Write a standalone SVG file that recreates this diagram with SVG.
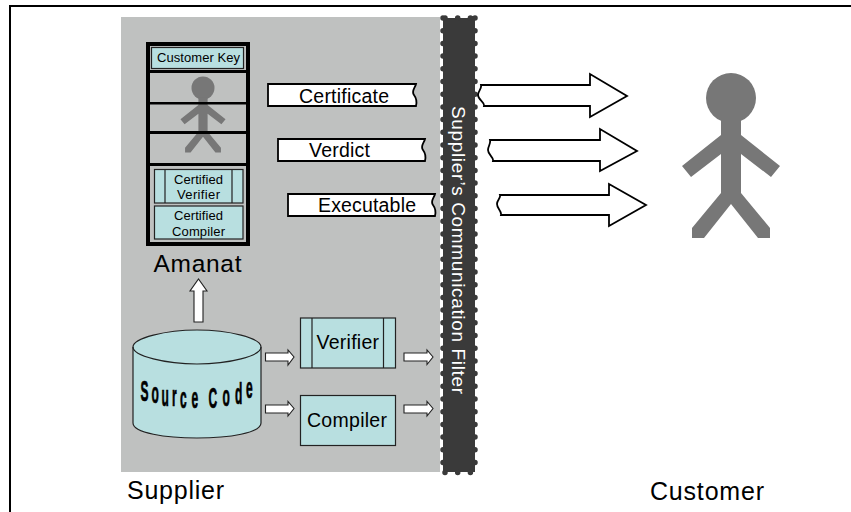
<svg xmlns="http://www.w3.org/2000/svg" width="851" height="512" viewBox="0 0 851 512">
<style>
text{font-family:"Liberation Sans",Arial,sans-serif;fill:#000}
.box{fill:#b8dfe0;stroke:#222;stroke-width:1.2}
.thin{fill:none;stroke:#222;stroke-width:1.2}
.arrow{fill:#fff;stroke:#000;stroke-width:1.8}
.small{stroke-width:1.1;stroke:#222}
.bar{fill:#000}
.person{fill:#777}
</style>
<defs>
<g id="man">
<circle cx="0" cy="0" r="25"/>
<polygon points="-10,20 10,20 10,37 49,68 40,79 10,56 10,95 39,130 39,140 27,140 0,106 -27,140 -39,140 -39,130 -10,95 -10,56 -40,79 -49,68 -10,37"/>
</g>
</defs>
<rect width="851" height="512" fill="#fff"/>
<path d="M10 512V6H851" fill="none" stroke="#000" stroke-width="2"/>
<rect id="supplier-area" x="121" y="17" width="319" height="455" fill="#bfc1c0"/>
<g id="filter">
<rect x="443" y="18" width="32" height="454" fill="#3a3a3a"/>
<path d="M443 18V472M475 18V472M445 18H474M445 472.500H474" fill="none" stroke="#3a3a3a" stroke-width="5.500" stroke-linecap="round" stroke-dasharray="0 12.700"/>
<text transform="translate(452,106) rotate(90)" font-size="19" textLength="288" style="fill:#fff">Supplier’s Communication Filter</text>
</g>
<g id="amanat">
<use href="#man" class="person" transform="translate(203,88) scale(0.46)"/>
<rect x="148" y="44" width="100" height="200" fill="none" stroke="#000" stroke-width="4"/>
<rect class="bar" x="147" y="70" width="102" height="3"/>
<rect class="bar" x="147" y="102" width="102" height="2.500"/>
<rect class="bar" x="147" y="131" width="102" height="3"/>
<rect class="bar" x="147" y="163" width="102" height="3"/>
<rect class="box" x="151.500" y="47.500" width="92" height="21"/>
<text x="157" y="62" font-size="13" textLength="83">Customer Key</text>
<rect class="box" x="154.500" y="169.500" width="88.500" height="33.500"/>
<path class="thin" d="M165 169.500v33.500M232 169.500v33.500"/>
<text x="174" y="183.500" font-size="13" textLength="49">Certified</text>
<text x="177" y="199" font-size="13" textLength="43">Verifier</text>
<rect class="box" x="154.500" y="206" width="88.500" height="33"/>
<text x="174" y="220" font-size="13" textLength="49">Certified</text>
<text x="172" y="236" font-size="13" textLength="53">Compiler</text>
<text x="153.500" y="272" font-size="24.500" textLength="88">Amanat</text>
</g>
<g id="connectors">
<path class="arrow small" d="M194 322V291H190L198.500 279L207 291H203V322Z"/>
<path class="arrow small" d="M265.500 353H288V350L294 357L288 365V361H265.500Z"/>
<path class="arrow small" d="M265.500 405H288V401.500L294 408.500L288 416V413H265.500Z"/>
<path class="arrow small" d="M404 353H427V350L433 357L427 364.500V361H404Z"/>
<path class="arrow small" d="M404 405H427V401.500L433 408.500L427 416V413H404Z"/>
<path class="arrow" d="M481 85H590V74L627 96L590 117V106H484C485 102 478 100 478 95C478 91 482 89 481 85Z"/>
<path class="arrow" d="M490 140H600V129L637 151L600 171V161H493C494 157 488 155 488 150C488 146 491 144 490 140Z"/>
<path class="arrow" d="M500 195H609V184L646 205L609 226V215H501C502 211 497 209 497 204C497 200 501 198 500 195Z"/>
</g>
<g id="certificate">
<path class="arrow" d="M268 84H416C415 88 411 91 414 95C417 99 417 102 416 106H268Z"/>
<text x="299" y="102.500" font-size="19.500" textLength="90">Certificate</text>
</g>
<g id="verdict">
<path class="arrow" d="M278 139H425C424 143 420 146 423 150C426 154 426 157 425 161H278Z"/>
<text x="309" y="157" font-size="19.500" textLength="61">Verdict</text>
</g>
<g id="executable">
<path class="arrow" d="M288 194H435C434 198 430 201 433 205C436 209 436 212 435 216H288Z"/>
<text x="318" y="212" font-size="19.500" textLength="98">Executable</text>
</g>
<g id="source-code">
<path class="box" d="M133 347C133 338 166 330 197 330C229 330 261 338 261 347V423C261 433 229 438 197 438C166 438 133 433 133 423Z"/>
<path class="thin" d="M133 347C133 356 166 364 197 364C229 364 261 356 261 347"/>
<text transform="scale(0.75,1.85)" font-size="16" font-weight="bold" stroke="#000" stroke-width="0.4" x="187.300 202 215.300 229.300 240 255.300 273.300 278 296.700 313.300 328" y="217 217.800 219.200 219.700 220.300 220.500 220.500 220.500 219.200 218.400 215.100">Source Code</text>
</g>
<g id="verifier">
<rect class="box" x="300.500" y="318" width="95" height="50"/>
<path class="thin" d="M312 318v50M383.500 318v50"/>
<text x="316.500" y="349" font-size="19.500" textLength="62.500">Verifier</text>
</g>
<g id="compiler">
<rect class="box" x="300.500" y="395.500" width="95" height="50"/>
<text x="307" y="427" font-size="19.500" textLength="80">Compiler</text>
</g>
<use id="customer" href="#man" class="person" transform="translate(731,98)"/>
<text id="supplier-label" x="127" y="499" font-size="25" textLength="97">Supplier</text>
<text id="customer-label" x="650" y="500" font-size="25" textLength="114">Customer</text>
</svg>
